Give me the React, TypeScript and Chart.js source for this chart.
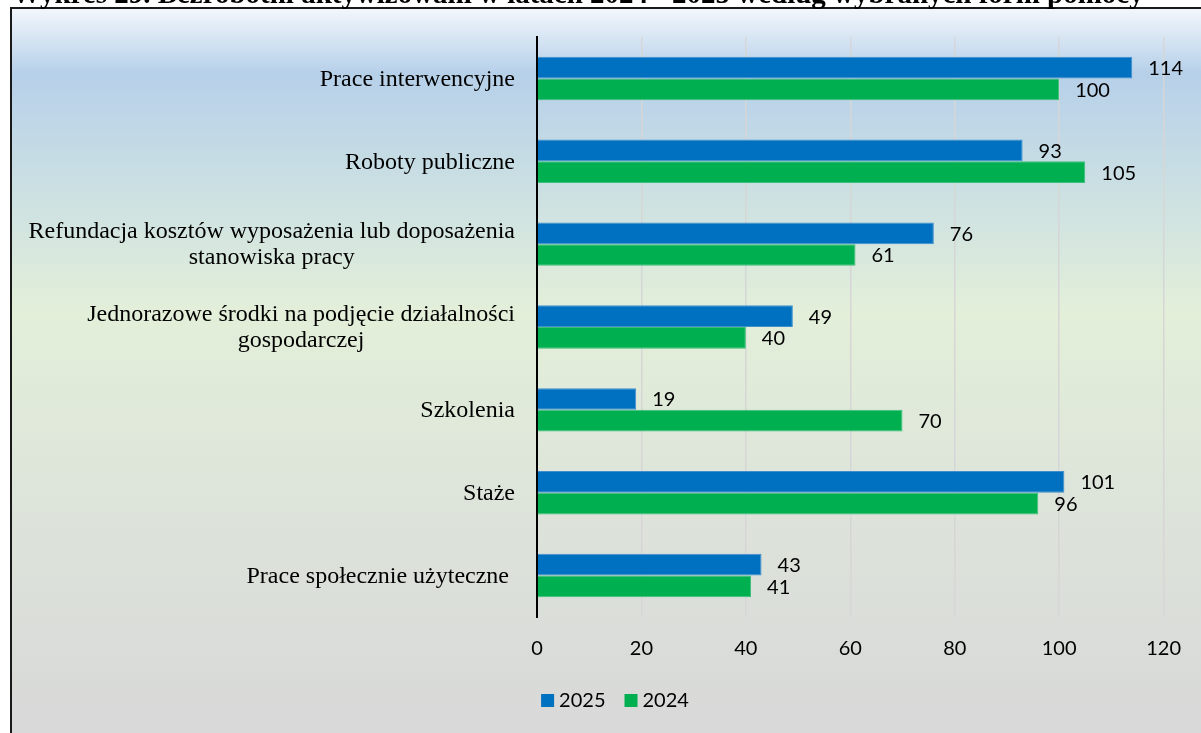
import React, { useEffect, useRef } from "react";
import { Chart, registerables } from "chart.js";

Chart.register(...registerables);

// ---- data ----
const titleText =
  "Wykres 29. Bezrobotni aktywizowani w latach 2024 - 2025 według wybranych form pomocy";
const categories: string[][] = [
  ["Prace interwencyjne"],
  ["Roboty publiczne"],
  ["Refundacja kosztów wyposażenia lub doposażenia", "stanowiska pracy"],
  ["Jednorazowe środki na podjęcie działalności", "gospodarczej"],
  ["Szkolenia"],
  ["Staże"],
  ["Prace społecznie użyteczne "],
];
const seriesNames = ["2025", "2024"];
const values2025 = [114, 93, 76, 49, 19, 101, 43];
const values2024 = [100, 105, 61, 40, 70, 96, 41];
const xMin = 0;
const xMax = 120;
const xStep = 20;

// ---- styles ----
const colors = ["#0070c0", "#00b050"];
const borderColors = ["#3f8fcf", "#3cc079"];
const numFont = "Lato";
const catFont = '"Liberation Serif"';

const backgroundPlugin = {
  id: "bg",
  beforeDraw(chart: any) {
    const { ctx, width, height } = chart;
    ctx.save();
    ctx.fillStyle = "#ffffff";
    ctx.fillRect(0, 0, width, height);
    const top = 8;
    const left = 11;
    const g = ctx.createLinearGradient(0, top, 0, height);
    g.addColorStop(0, "#f3f7fc");
    g.addColorStop(0.09, "#b6d0e9");
    g.addColorStop(0.24, "#cadfe3");
    g.addColorStop(0.42, "#e3efd9");
    g.addColorStop(0.68, "#dde4da");
    g.addColorStop(1, "#d8d8d8");
    ctx.fillStyle = g;
    ctx.fillRect(left, top, width - left, height - top);
    ctx.strokeStyle = "#1a1a1a";
    ctx.lineWidth = 2;
    ctx.beginPath();
    ctx.moveTo(left, height);
    ctx.lineTo(left, top);
    ctx.lineTo(width, top);
    ctx.stroke();
    ctx.restore();
  },
};

const labelsPlugin = {
  id: "labels",
  afterDraw(chart: any) {
    const { ctx } = chart;
    ctx.save();
    // value labels
    ctx.font = `20px ${numFont}`;
    ctx.fillStyle = "#000";
    ctx.textAlign = "left";
    ctx.textBaseline = "middle";
    chart.data.datasets.forEach((ds: any, di: number) => {
      const meta = chart.getDatasetMeta(di);
      meta.data.forEach((bar: any, i: number) => {
        ctx.fillText(String(ds.data[i]), bar.x + 16, bar.y + 1);
      });
    });
    // category labels
    const yScale = chart.scales.y;
    ctx.font = `24px ${catFont}`;
    ctx.textAlign = "center";
    const rightX = 515;
    const lh = 26;
    categories.forEach((lines, i) => {
      const y = yScale.getPixelForTick(i);
      const w = Math.max(...lines.map((l) => ctx.measureText(l).width));
      const cx = rightX - w / 2;
      lines.forEach((l, j) => {
        ctx.fillText(l, cx, y + (j - (lines.length - 1) / 2) * lh + 1);
      });
    });
    // legend
    ctx.font = `20px ${numFont}`;
    ctx.textAlign = "left";
    const box = 13;
    const gapText = 5;
    const gapItem = 19;
    const widths = seriesNames.map((n) => box + gapText + ctx.measureText(n).width);
    const total = widths.reduce((a, b) => a + b, 0) + gapItem * (seriesNames.length - 1);
    let x = 615 - total / 2;
    const ly = 701;
    seriesNames.forEach((n, k) => {
      ctx.fillStyle = colors[k];
      ctx.fillRect(x, ly - 7, box, box);
      ctx.fillStyle = "#000";
      ctx.fillText(n, x + box + gapText, ly);
      x += widths[k] + gapItem;
    });
    // title (cut off at top)
    ctx.font = `bold 20px ${catFont}`;
    const tw = ctx.measureText(titleText).width;
    const size = (20 * 1132) / tw;
    ctx.font = `bold ${size}px ${catFont}`;
    ctx.textBaseline = "alphabetic";
    ctx.fillStyle = "#000";
    ctx.fillText(titleText, 12, 3);
    ctx.restore();
  },
};

export default function App() {
  const ref = useRef<HTMLCanvasElement | null>(null);
  useEffect(() => {
    if (!ref.current) return;
    const chart = new Chart(ref.current, {
      type: "bar",
      data: {
        labels: categories.map((c) => c.join(" ")),
        datasets: [
          {
            label: seriesNames[0],
            data: values2025,
            backgroundColor: colors[0],
            borderColor: borderColors[0],
            borderWidth: 1,
            categoryPercentage: 0.524,
            barPercentage: 1,
          },
          {
            label: seriesNames[1],
            data: values2024,
            backgroundColor: colors[1],
            borderColor: borderColors[1],
            borderWidth: 1,
            categoryPercentage: 0.524,
            barPercentage: 1,
          },
        ],
      },
      options: {
        indexAxis: "y",
        responsive: false,
        animation: false,
        layout: { padding: { left: 537, right: 34, top: 37, bottom: 0 } },
        plugins: { legend: { display: false }, tooltip: { enabled: false } },
        scales: {
          x: {
            min: xMin,
            max: xMax,
            ticks: {
              stepSize: xStep,
              font: { family: numFont, size: 20 },
              color: "#000",
              padding: 20,
            },
            grid: { color: "#d6d6d6", lineWidth: 1.5, drawTicks: false },
            border: { display: false },
            afterFit(s: any) {
              s.height = 116;
            },
          },
          y: {
            ticks: { display: false },
            grid: { display: false, drawTicks: false },
            border: { display: true, color: "#000", width: 2 },
            afterFit(s: any) {
              s.width = 0;
            },
          },
        },
      } as any,
      plugins: [backgroundPlugin, labelsPlugin],
    });
    return () => chart.destroy();
  }, []);
  return (
    <div style={{ position: "fixed", left: 0, top: 0, width: 1201, height: 733 }}>
      <canvas ref={ref} width={1201} height={733} style={{ display: "block" }} />
    </div>
  );
}
